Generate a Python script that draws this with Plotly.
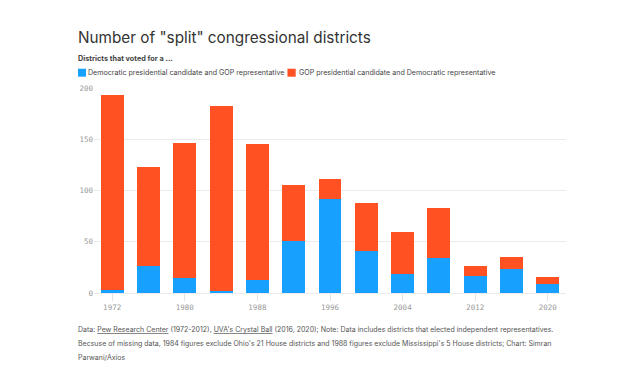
import plotly.graph_objects as go

years = [1972, 1976, 1980, 1984, 1988, 1992, 1996, 2000, 2004, 2008, 2012, 2016, 2020]
dem_pres_gop_rep = [3, 26, 15, 2, 13, 51, 92, 41, 19, 34, 17, 23, 9]
gop_pres_dem_rep = [190, 97, 131, 180, 132, 54, 19, 47, 41, 49, 9, 12, 7]
tick_years = [1972, 1980, 1988, 1996, 2004, 2012, 2020]
y_ticks = [0, 50, 100, 150, 200]

BLUE = "#18a0ff"
RED = "#ff5122"
names = ["Democratic presidential candidate and GOP representative",
         "GOP presidential candidate and Democratic representative"]

# page offset (browser body margin)
OFF = 8
W, H = 630, 376
L = 94 - OFF
R = W - (565.6 - OFF)
T = 88 - OFF
B = H - (293.3 - OFF)
pw, ph = W - L - R, H - T - B

def px(x):
    return (x - OFF - L) / pw

def py(y):
    return (H - B - (y - OFF)) / ph

fig = go.Figure()
fig.add_trace(go.Bar(x=[str(y) for y in years], y=dem_pres_gop_rep, name=names[0],
                     marker=dict(color=BLUE, line=dict(width=0))))
fig.add_trace(go.Bar(x=[str(y) for y in years], y=gop_pres_dem_rep, name=names[1],
                     marker=dict(color=RED, line=dict(width=0))))

MONO = "DejaVu Sans Mono"
SANS = "Inter"

fig.update_layout(
    barmode="stack",
    bargap=0.37,
    width=W, height=H,
    margin=dict(l=L, r=R, t=T, b=B, pad=0),
    paper_bgcolor="white", plot_bgcolor="white",
    showlegend=False,
    xaxis=dict(
        type="category",
        tickmode="array",
        tickvals=[str(y) for y in tick_years],
        ticktext=[str(y) for y in tick_years],
        ticks="outside", ticklen=7, tickcolor="#e3e3e3", tickwidth=1,
        tickfont=dict(family=MONO, size=7.5, color="#999999"),
        showgrid=False, zeroline=False, showline=False,
        range=[-0.5, 12.5],
    ),
    yaxis=dict(
        range=[0, 200],
        tickmode="array", tickvals=y_ticks, ticktext=[str(v) for v in y_ticks],
        showgrid=True, gridcolor="#ebebeb", gridwidth=1,
        zeroline=True, zerolinecolor="#ebebeb", zerolinewidth=1,
        tickfont=dict(family=MONO, size=7.5, color="#999999"),
        ticks="", ticklabelstandoff=0,
    ),
)

ann = []
shapes = []
def text_ann(text, x, y, size, color, anchor="left"):
    ann.append(dict(text=text, x=px(x), y=py(y), xref="paper", yref="paper",
                    xanchor=anchor, yanchor="middle", showarrow=False, align="left",
                    borderpad=0, font=dict(family=SANS, size=size, color=color)))

text_ann('Number of "split" congressional districts', 77, 37, 15.3, "#333333")
text_ann("<b>Districts that voted for a ...</b>", 77.5, 58, 7.3, "#444444")

# legend keys
for (x0, x1), col, name, tx in [((78, 86), BLUE, names[0], 87.5), ((287.3, 295.5), RED, names[1], 297.5)]:
    shapes.append(dict(type="rect", xref="paper", yref="paper",
                       x0=px(x0), x1=px(x1), y0=py(76.7), y1=py(68.7),
                       fillcolor=col, line=dict(width=0)))
    text_ann(name, tx, 72.7, 7.1, "#444444")

footer_lines = [
    "Data: <u>Pew Research Center</u> (1972-2012), <u>UVA's Crystal Ball</u> (2016, 2020); "
    "Note: Data includes districts that elected independent representatives.",
    "Becsuse of missing data, 1984 figures exclude Ohio's 21 House districts and 1988 figures "
    "exclude Mississippi's 5 House districts; Chart: Simran",
    "Parwani/Axios",
]
for line, yy in zip(footer_lines, [329.5, 343.8, 358.3]):
    text_ann(line, 77.3, yy, 7, "#555555")

fig.update_layout(annotations=ann, shapes=shapes)

fig.write_html("out.html")
